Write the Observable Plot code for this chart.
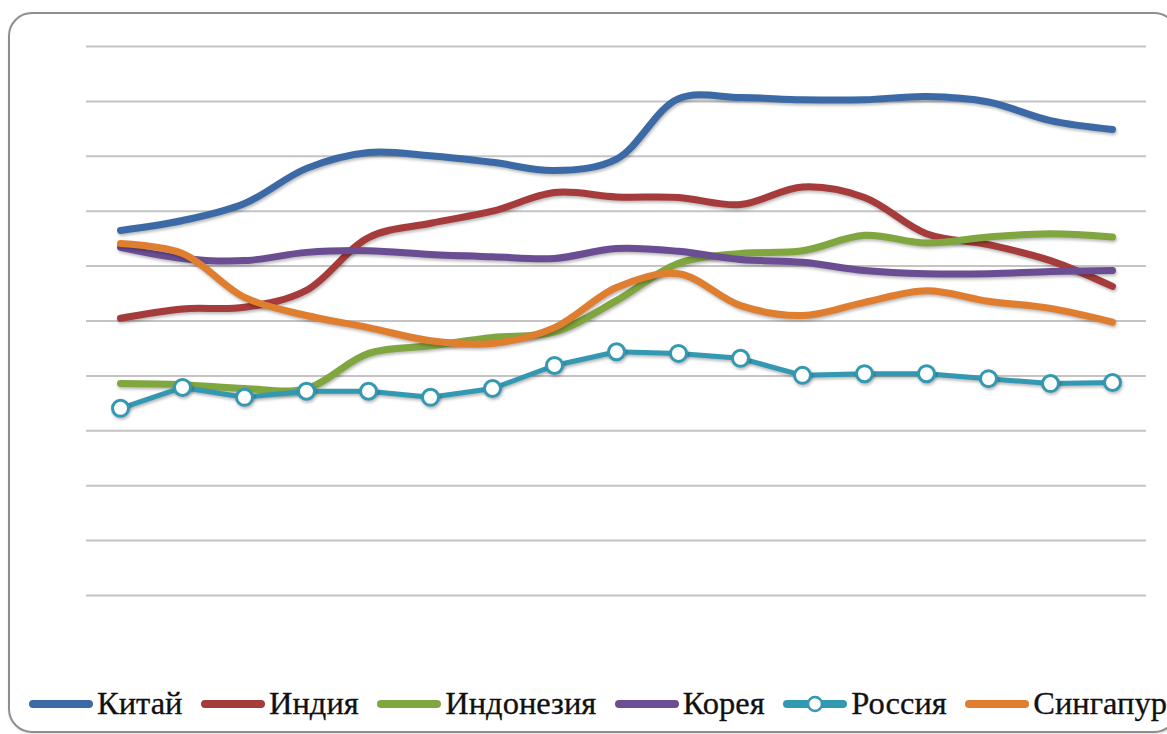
<!DOCTYPE html>
<html>
<head>
<meta charset="utf-8">
<script src="https://cdn.jsdelivr.net/npm/d3@7"></script>
<script src="https://cdn.jsdelivr.net/npm/@observablehq/plot@0.6"></script>
<style>
  html, body { margin: 0; padding: 0; background: #ffffff; }
  #page { position: relative; width: 1167px; height: 734px; overflow: hidden; background: #fff; }
  #frame {
    position: absolute; left: 8px; top: 12px; width: 1170px; height: 721px;
    box-sizing: border-box; border: 2px solid #8e8e8e; border-radius: 24px;
    box-shadow: 1px 1px 3px rgba(0,0,0,0.15);
  }
  #chart { position: absolute; left: 0; top: 0; }
  #chart svg g[aria-label="line"] { filter: drop-shadow(1px 2px 1.5px rgba(0,0,0,0.28)); }
  #chart svg g[aria-label="dot"] { filter: drop-shadow(1px 2px 1.5px rgba(0,0,0,0.28)); }
  #legend {
    position: absolute; left: 29px; top: 685px; display: flex; align-items: center;
    font-family: "Liberation Serif", "DejaVu Serif", serif; font-size: 32.5px; color: #111;
    -webkit-text-stroke: 0.3px #111;
    white-space: nowrap;
  }
  .item { display: flex; align-items: center; margin-right: 18.5px; }
  .item svg { margin-right: 4px; }
</style>
</head>
<body>
<div id="page">
  <div id="frame"></div>
  <div id="chart"></div>
  <div id="legend"></div>
</div>
<script>
// Categories (17 periods, no axis labels in the original)
const periods = [1, 2, 3, 4, 5, 6, 7, 8, 9, 10, 11, 12, 13, 14, 15, 16, 17];

// Series names and colours
const seriesNames = ["Китай", "Индия", "Индонезия", "Корея", "Россия", "Сингапур"];
const seriesColors = ["#3c6aa6", "#a63b3b", "#80a640", "#6b4d93", "#3399b3", "#e07e2f"];

// Series values (gridlines every 1 unit, 0..10)
const china     = [6.65, 6.83, 7.14, 7.78, 8.07, 8.01, 7.89, 7.74, 7.95, 9.05, 9.07, 9.03, 9.03, 9.09, 8.99, 8.65, 8.49];
const india     = [5.05, 5.22, 5.25, 5.56, 6.52, 6.78, 7.00, 7.34, 7.26, 7.25, 7.12, 7.44, 7.25, 6.59, 6.39, 6.10, 5.63];
const indonesia = [3.86, 3.84, 3.77, 3.77, 4.41, 4.55, 4.70, 4.80, 5.37, 6.05, 6.23, 6.28, 6.56, 6.42, 6.53, 6.59, 6.53];
const korea     = [6.34, 6.14, 6.10, 6.25, 6.28, 6.21, 6.17, 6.14, 6.32, 6.27, 6.12, 6.07, 5.92, 5.86, 5.86, 5.90, 5.92];
const russia    = [3.41, 3.79, 3.61, 3.72, 3.72, 3.61, 3.77, 4.19, 4.44, 4.41, 4.32, 4.01, 4.04, 4.04, 3.95, 3.86, 3.88];
const singapore = [6.41, 6.23, 5.43, 5.10, 4.88, 4.64, 4.59, 4.88, 5.61, 5.86, 5.28, 5.10, 5.34, 5.55, 5.36, 5.23, 4.98];

// Gridline values
const gridValues = [0, 1, 2, 3, 4, 5, 6, 7, 8, 9, 10];

const seriesValues = [china, india, indonesia, korea, russia, singapore];
const rows = [];
seriesNames.forEach((name, i) => {
  periods.forEach((p, j) => rows.push({ period: p, series: name, value: seriesValues[i][j] }));
});
const smoothRows = rows.filter(d => d.series !== "Россия");
const russiaRows = rows.filter(d => d.series === "Россия");

const chart = Plot.plot({
  width: 1167,
  height: 640,
  marginTop: 46,
  marginBottom: 45,
  marginLeft: 86,
  marginRight: 21,
  x: { type: "point", domain: periods, padding: 0.5, axis: null },
  y: { domain: [0, 10], axis: null },
  color: { domain: seriesNames, range: seriesColors },
  marks: [
    Plot.ruleY(gridValues, { stroke: "#c4c4c4", strokeWidth: 2 }),
    ...seriesNames.map(name => name === "Россия"
      ? [
          Plot.line(russiaRows, { x: "period", y: "value", stroke: "series", strokeWidth: 5, strokeLinejoin: "round", strokeLinecap: "round" }),
          Plot.dot(russiaRows, { x: "period", y: "value", r: 8, fill: "white", stroke: "series", strokeWidth: 3 })
        ]
      : Plot.line(smoothRows.filter(d => d.series === name), { x: "period", y: "value", stroke: "series", strokeWidth: 7, curve: "catmull-rom", strokeLinecap: "round", strokeLinejoin: "round" })
    )
  ]
});
document.getElementById("chart").appendChild(chart);

// Legend
const legend = document.getElementById("legend");
seriesNames.forEach((name, i) => {
  const item = document.createElement("div");
  item.className = "item";
  const c = seriesColors[i];
  const marker = name === "Россия"
    ? `<circle cx="32" cy="10" r="7" fill="white" stroke="${c}" stroke-width="2.5"/>`
    : "";
  item.innerHTML = `<svg width="64" height="20" viewBox="0 0 64 20"><line x1="4" y1="10" x2="60" y2="10" stroke="${c}" stroke-width="8" stroke-linecap="round"/>${marker}</svg><span>${name}</span>`;
  legend.appendChild(item);
});
</script>
</body>
</html>
